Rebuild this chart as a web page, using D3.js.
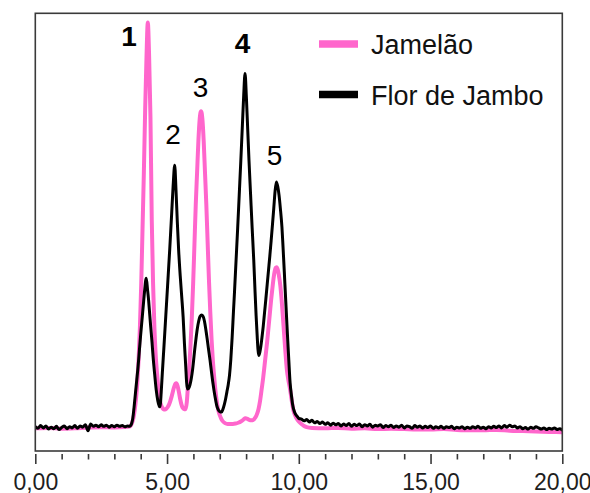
<!DOCTYPE html>
<html>
<head>
<meta charset="utf-8">
<script src="https://cdn.jsdelivr.net/npm/d3@7"></script>
<style>
  html, body { margin: 0; padding: 0; background: #fff; }
  svg { display: block; font-family: "Liberation Sans", Arial, Helvetica, sans-serif; }
</style>
</head>
<body>
<svg id="chart" width="590" height="493"></svg>
<script>
// ---- data -------------------------------------------------------------
// Retention time (min) and detector signal (arbitrary units)
const seriesNames = ["Jamelão", "Flor de Jambo"];

const jamelaoTrace = [
  [0, -0.3], [0.5, -0.2], [1.0, -0.4], [1.5, -0.3], [2.0, -0.1], [2.5, 0.0], [3.0, -0.1], [3.4, 0.0],
  [3.6, 0.2], [3.67, 1.0], [3.72, 2.2], [3.77, 4.2], [3.82, 7], [3.87, 11], [3.92, 17], [3.97, 25],
  [4.02, 36], [4.07, 50], [4.12, 64], [4.17, 80], [4.22, 93], [4.27, 101.7], [4.32, 93], [4.37, 78],
  [4.42, 52], [4.47, 36], [4.52, 25], [4.57, 18], [4.62, 13.5], [4.67, 9.8], [4.72, 7.0], [4.77, 5.6],
  [4.82, 4.9], [4.87, 4.5], [4.92, 4.4], [4.97, 4.6], [5.02, 5.0], [5.07, 5.6], [5.12, 6.5], [5.17, 7.6],
  [5.22, 8.9], [5.27, 10.1], [5.32, 10.9], [5.35, 11.0], [5.4, 10.3], [5.45, 8.8], [5.5, 7.0], [5.55, 5.6],
  [5.6, 4.8], [5.65, 4.5], [5.7, 4.5], [5.75, 6.3], [5.79, 10], [5.84, 14.5], [5.89, 20.5], [5.94, 27.5],
  [5.99, 36], [6.04, 46], [6.09, 56], [6.14, 64], [6.19, 72], [6.24, 77.5], [6.29, 79.4], [6.34, 77.5],
  [6.39, 72], [6.44, 64], [6.49, 56], [6.54, 46.5], [6.59, 37], [6.64, 29], [6.69, 22], [6.74, 16.5],
  [6.79, 12.5], [6.84, 9], [6.89, 6.3], [6.94, 4.4], [7.0, 3.0], [7.05, 2.2], [7.1, 1.6], [7.2, 1.0],
  [7.3, 0.8], [7.4, 0.8], [7.5, 0.8], [7.6, 0.9], [7.7, 1.1], [7.8, 1.4], [7.9, 1.9], [7.97, 2.2],
  [8.05, 2.1], [8.12, 1.8], [8.2, 1.7], [8.27, 1.8], [8.35, 2.4], [8.42, 3.4], [8.47, 4.5], [8.53, 6.6],
  [8.59, 9.5], [8.65, 12.5], [8.7, 15.5], [8.75, 18.5], [8.8, 21.5], [8.85, 25], [8.9, 28.5], [8.95, 32],
  [9.0, 35], [9.04, 37.3], [9.08, 39], [9.12, 40], [9.16, 40.2], [9.2, 39.6], [9.24, 38.3], [9.3, 35.5],
  [9.36, 31], [9.42, 25.5], [9.48, 20], [9.55, 14.3], [9.6, 12.0], [9.67, 9.5], [9.72, 7.2], [9.8, 4.1],
  [9.9, 2.4], [10.0, 1.4], [10.1, 0.8], [10.2, 0.3], [10.3, 0.0], [10.5, -0.2], [11, -0.3], [11.5, -0.2],
  [12, -0.4], [12.5, -0.3], [13, -0.5], [13.5, -0.4], [14, -0.5], [14.5, -0.6], [15, -0.6], [15.5, -0.5],
  [16, -0.7], [16.5, -0.8], [17, -0.8], [17.5, -0.7], [18, -0.9], [18.5, -1.0], [19, -1.1], [19.5, -1.2],
  [20, -1.3]
];

const florDeJamboTrace = [
  [0.0, 0.1], [0.1, -0.3], [0.2, 0.4], [0.3, -0.2], [0.4, 0.3], [0.5, -0.5], [0.6, 0.0], [0.7, -0.4],
  [0.8, 0.2], [0.9, -0.6], [1.0, -0.1], [1.1, 0.3], [1.2, -0.4], [1.3, 0.1], [1.4, -0.2], [1.5, 0.4],
  [1.6, -0.3], [1.7, 0.3], [1.8, 0.0], [1.9, 0.6], [2.0, -0.9], [2.1, 0.8], [2.2, 0.2], [2.3, 0.5],
  [2.4, 0.1], [2.5, 0.6], [2.6, 0.2], [2.7, 0.5], [2.8, 0.0], [2.9, 0.4], [3.0, 0.1], [3.1, 0.5],
  [3.2, 0.2], [3.3, 0.4], [3.4, 0.1], [3.5, 0.3], [3.55, 0.2],
  [3.6, 0.3], [3.65, 0.8], [3.7, 2.2], [3.75, 5.1], [3.8, 8.5], [3.85, 11.8], [3.9, 15.2], [3.95, 19.3],
  [4.0, 23.3], [4.06, 27.7], [4.11, 31.5], [4.15, 34.4], [4.21, 37.4], [4.26, 34.5], [4.3, 31.9], [4.34, 28.5],
  [4.38, 25.2], [4.43, 21.3], [4.47, 17.7], [4.53, 13.3], [4.59, 9.3], [4.65, 6.6], [4.72, 5.1], [4.75, 6.0],
  [4.78, 9.0], [4.82, 13.5], [4.88, 20], [4.95, 27.7], [5.02, 35.5], [5.1, 44.5], [5.17, 53], [5.23, 60.5],
  [5.29, 65.8], [5.34, 59.5], [5.39, 51.5], [5.44, 44.5], [5.5, 38], [5.56, 32.5], [5.61, 27.7], [5.66, 21],
  [5.71, 15.2], [5.74, 11.5], [5.77, 9.6], [5.82, 9.7], [5.87, 10.6], [5.92, 12.2], [5.97, 14.5], [6.0, 16.3],
  [6.05, 19.5], [6.1, 22.3], [6.15, 24.8], [6.2, 26.6], [6.25, 27.8], [6.32, 28.2], [6.37, 27.8], [6.42, 26.6],
  [6.47, 24.6], [6.52, 22.3], [6.57, 19.8], [6.63, 16.9], [6.68, 14.2], [6.73, 11.6], [6.78, 9.3], [6.83, 7.3],
  [6.88, 5.6], [6.94, 4.4], [7.0, 3.9], [7.07, 3.8], [7.12, 4.5], [7.17, 5.6], [7.22, 7.0], [7.27, 8.8],
  [7.32, 10.6], [7.37, 13], [7.42, 17], [7.47, 22.5], [7.52, 29], [7.56, 34], [7.62, 42], [7.68, 50],
  [7.74, 58.5], [7.8, 67], [7.86, 76], [7.91, 83.5], [7.96, 88.9], [8.01, 83], [8.06, 75], [8.11, 67],
  [8.17, 58.5], [8.23, 50], [8.29, 42], [8.34, 34], [8.38, 28], [8.42, 23], [8.45, 19.6], [8.48, 18.0],
  [8.52, 18.8], [8.56, 20.3], [8.6, 22.4], [8.65, 25.3], [8.7, 28.8], [8.75, 32.2], [8.8, 35.8], [8.85, 39.4],
  [8.9, 43], [8.95, 46.8], [9.0, 50.8], [9.05, 55], [9.1, 59.3], [9.15, 61.6], [9.2, 60.5], [9.25, 58.3],
  [9.3, 55], [9.36, 50.3], [9.4, 45.5], [9.45, 39], [9.49, 33.6], [9.54, 27], [9.58, 21.8], [9.62, 16.9],
  [9.67, 11.1], [9.72, 8], [9.76, 5.9], [9.8, 4.6], [9.85, 3.6], [9.9, 3.0], [9.95, 2.6], [10.0, 2.2],
  [10.1, 2.0], [10.2, 1.6], [10.3, 1.9], [10.4, 1.3], [10.5, 1.7], [10.6, 1.1],
  [10.7, 1.4], [10.8, 0.9], [10.9, 1.3], [11.0, 0.7], [11.1, 1.1], [11.2, 0.5], [11.3, 1.0], [11.4, 0.6],
  [11.5, 0.9], [11.6, 0.3], [11.7, 0.8], [11.8, 0.4], [11.9, 0.9], [12.0, 0.2], [12.1, 0.7], [12.2, 0.4],
  [12.3, 0.8], [12.4, 0.1], [12.5, 0.6], [12.6, 0.3], [12.7, 0.7], [12.8, 0.0], [12.9, 0.5], [13.0, 0.3],
  [13.1, 0.6], [13.2, -0.1], [13.3, 0.4], [13.4, 0.1], [13.5, 0.5], [13.6, -0.1], [13.7, 0.3], [13.8, 0.0],
  [13.9, 0.5], [14.0, -0.2], [14.1, 0.3], [14.2, 0.1], [14.3, -0.3], [14.4, 0.4], [14.5, 0.0], [14.6, 0.3],
  [14.7, -0.2], [14.8, 0.2], [14.9, -0.1], [15.0, 0.3], [15.1, -0.3], [15.2, 0.1], [15.3, -0.2], [15.4, 0.2],
  [15.5, -0.3], [15.6, 0.1], [15.7, -0.1], [15.8, 0.2], [15.9, -0.4], [16.0, 0.0], [16.1, -0.2], [16.2, 0.1],
  [16.3, -0.4], [16.4, 0.0], [16.5, -0.3], [16.6, 0.1], [16.7, -0.2], [16.8, 0.2], [16.9, -0.3], [17.0, 0.0],
  [17.1, -0.4], [17.2, 0.1], [17.3, -0.2], [17.4, 0.2], [17.5, -0.1], [17.6, 0.3], [17.7, -0.2], [17.8, 0.4],
  [17.9, 0.0], [18.0, 0.5], [18.1, 0.1], [18.2, 0.3], [18.3, -0.2], [18.4, 0.1], [18.5, -0.4], [18.6, -0.1],
  [18.7, -0.5], [18.8, 0.0], [18.9, -0.3], [19.0, 0.1], [19.1, -0.2], [19.2, -0.5], [19.3, -0.2], [19.4, -0.6],
  [19.5, -0.3], [19.6, -0.5], [19.7, -0.2], [19.8, -0.6], [19.9, -0.4], [20.0, -0.7]
];

// numbered peaks and the retention time each number refers to
const peakNumbers = ["1", "2", "3", "4", "5"];
const peakTimes = [4.27, 5.29, 6.29, 7.96, 9.15];

// x axis ticks: one every minute, labelled every five
const minorTicks = [0, 1, 2, 3, 4, 5, 6, 7, 8, 9, 10, 11, 12, 13, 14, 15, 16, 17, 18, 19, 20];
const majorTicks = [0, 5, 10, 15, 20];

// ---- layout & style -------------------------------------------------------
const colors = ["#ff66cc", "#000000"];
const strokeWidths = [4, 3];
const plot = { left: 35.3, right: 562.3, top: 13.3, bottom: 451 };

const svg = d3.select("#chart");

const x = d3.scaleLinear().domain([0, 20]).range([plot.left, plot.right]);
const y = d3.scaleLinear().domain([-6, 104]).range([plot.bottom, plot.top]);

svg.append("defs").append("clipPath").attr("id", "plot-area")
  .append("rect")
  .attr("x", plot.left).attr("y", plot.top)
  .attr("width", plot.right - plot.left).attr("height", plot.bottom - plot.top);

const line = d3.line()
  .x(d => x(d[0]))
  .y(d => y(d[1]))
  .curve(d3.curveMonotoneX);

// traces: pink first so the black trace sits on top
const traces = [jamelaoTrace, florDeJamboTrace];
svg.append("g").attr("clip-path", "url(#plot-area)")
  .selectAll("path")
  .data(traces)
  .join("path")
  .attr("d", line)
  .attr("fill", "none")
  .attr("stroke", (d, i) => colors[i])
  .attr("stroke-width", (d, i) => strokeWidths[i])
  .attr("stroke-linejoin", "round")
  .attr("stroke-linecap", "round");

// plot frame
svg.append("rect")
  .attr("x", plot.left).attr("y", plot.top)
  .attr("width", plot.right - plot.left).attr("height", plot.bottom - plot.top)
  .attr("fill", "none")
  .attr("stroke", "#3a3a3a")
  .attr("stroke-width", 1.6);

// x axis (decimal comma labels, sitting just below the frame)
const fmt = d3.format(".2f");
const axisY = 454;
const xAxis = d3.axisBottom(x)
  .tickValues(minorTicks)
  .tickSize(6)
  .tickPadding(0)
  .tickFormat(d => majorTicks.includes(d) ? fmt(d).replace(".", ",") : "");

const gx = svg.append("g")
  .attr("transform", `translate(0,${axisY})`)
  .call(xAxis);
gx.select(".domain").remove();
gx.selectAll(".tick line")
  .attr("stroke", "#3a3a3a")
  .attr("stroke-width", 1.6)
  .attr("y2", d => majorTicks.includes(d) ? 10 : 5.5);
gx.selectAll(".tick text")
  .attr("y", 35.5)
  .attr("dy", 0)
  .attr("fill", "#1e1e1e")
  .style("font-size", "23px")
  .style("font-family", '"Liberation Sans", Arial, sans-serif');

// peak numbers, placed relative to the tallest apex at each peak time
const allPoints = jamelaoTrace.concat(florDeJamboTrace);
const labelOffsets = [[-18.8, 23.5], [-1.7, -21.3], [-0.5, -14.2], [-2.5, -20.4], [-1.9, -17]];
const labelWeights = ["bold", "normal", "normal", "bold", "normal"];
svg.append("g")
  .selectAll("text")
  .data(peakNumbers)
  .join("text")
  .attr("x", (d, i) => x(peakTimes[i]) + labelOffsets[i][0])
  .attr("y", (d, i) => {
    const apex = d3.max(allPoints.filter(p => Math.abs(p[0] - peakTimes[i]) <= 0.02), p => p[1]);
    return y(apex) + labelOffsets[i][1];
  })
  .attr("text-anchor", "middle")
  .attr("font-size", 28)
  .attr("font-weight", (d, i) => labelWeights[i])
  .attr("fill", "#000")
  .text(d => d);

// legend
const legend = svg.append("g").attr("transform", "translate(319,44)");
const legendItems = legend.selectAll("g")
  .data(seriesNames)
  .join("g")
  .attr("transform", (d, i) => `translate(0,${i * 50.5})`);
legendItems.append("line")
  .attr("x1", 0).attr("x2", 39)
  .attr("y1", 0).attr("y2", 0)
  .attr("stroke", (d, i) => colors[i])
  .attr("stroke-width", 7.5);
legendItems.append("text")
  .attr("x", 52)
  .attr("y", 10)
  .attr("font-size", 27)
  .attr("fill", "#111")
  .text(d => d);
</script>
</body>
</html>
